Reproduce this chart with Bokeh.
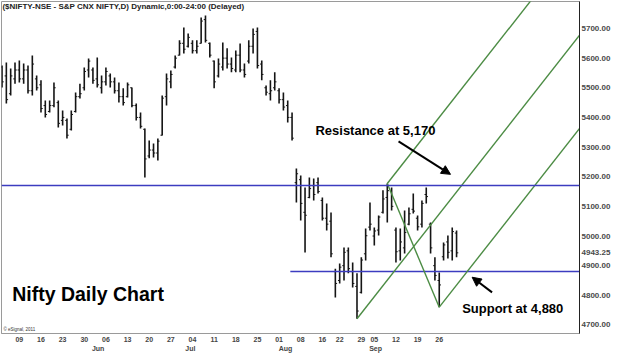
from bokeh.plotting import figure
from bokeh.models import (FixedTicker, Label, Arrow, NormalHead, Span, LinearAxis,
                          Range1d, CustomJSTickFormatter, NumeralTickFormatter)
from bokeh.embed import file_html
from bokeh.resources import INLINE

# ---- data (daily OHLC, NIFTY, 3 May - 30 Sep 2011) ----
OPEN = [5570, 5540, 5480, 5530, 5560, 5530, 5560, 5490, 5530, 5510,
        5440, 5420, 5440, 5450, 5390, 5390, 5360, 5420, 5470, 5500,
        5560, 5560, 5530, 5500, 5520, 5540, 5520, 5490, 5470, 5470,
        5500, 5440, 5400, 5360, 5270, 5290, 5280, 5340, 5470, 5520,
        5570, 5610, 5650, 5640, 5650, 5625, 5650, 5730, 5650, 5590,
        5540, 5570, 5600, 5580, 5560, 5610, 5560, 5590, 5640, 5690,
        5580, 5500, 5480, 5500, 5490, 5460, 5440, 5400, 5180, 5190,
        5080, 5130, 5170, 5180, 5120, 5060, 5050, 4880, 4850, 4900,
        4950, 4880, 4830, 4810, 4940, 5030, 5000, 5020, 5080, 5130,
        5150, 5020, 4950, 4960, 5040, 5090, 5060, 5040, 5140, 5040,
        4900, 4850, 4930, 4980, 4950, 5010]
HIGH = [5575, 5585, 5565, 5585, 5592, 5582, 5575, 5609, 5541, 5525,
        5457, 5457, 5518, 5457, 5423, 5396, 5423, 5484, 5514, 5568,
        5599, 5568, 5602, 5541, 5568, 5548, 5535, 5518, 5498, 5518,
        5501, 5447, 5417, 5363, 5322, 5312, 5329, 5474, 5548, 5558,
        5609, 5660, 5703, 5683, 5660, 5660, 5737, 5744, 5653, 5592,
        5599, 5653, 5633, 5602, 5626, 5649, 5582, 5660, 5700, 5703,
        5592, 5508, 5525, 5552, 5498, 5484, 5457, 5417, 5228, 5204,
        5164, 5197, 5194, 5197, 5130, 5110, 5079, 4890, 4907, 4961,
        4961, 4911, 4874, 4928, 5025, 5113, 5029, 5069, 5154, 5177,
        5164, 5029, 5025, 5086, 5096, 5143, 5069, 5120, 5164, 5046,
        4928, 4877, 4978, 5002, 5029, 5019]
LOW = [5501, 5447, 5474, 5514, 5518, 5514, 5481, 5474, 5491, 5417,
       5400, 5417, 5434, 5366, 5373, 5329, 5356, 5417, 5464, 5491,
       5535, 5514, 5501, 5481, 5508, 5501, 5481, 5450, 5440, 5467,
       5434, 5390, 5363, 5197, 5262, 5265, 5255, 5339, 5440, 5498,
       5565, 5609, 5616, 5636, 5616, 5616, 5649, 5653, 5602, 5498,
       5535, 5558, 5565, 5552, 5552, 5552, 5535, 5582, 5616, 5565,
       5525, 5474, 5457, 5491, 5447, 5423, 5383, 5322, 5113, 5052,
       4944, 5127, 5120, 5143, 5052, 5019, 4928, 4793, 4840, 4850,
       4874, 4826, 4721, 4806, 4917, 5019, 4968, 5002, 5076, 5046,
       5086, 4911, 4917, 4941, 5036, 5076, 5019, 5029, 5110, 4941,
       4850, 4760, 4917, 4924, 4917, 4928]
CLOSE = [5520, 5460, 5540, 5560, 5530, 5560, 5490, 5580, 5500, 5430,
         5410, 5440, 5500, 5380, 5400, 5340, 5410, 5470, 5480, 5555,
         5590, 5525, 5510, 5520, 5555, 5520, 5490, 5470, 5450, 5510,
         5440, 5400, 5370, 5260, 5290, 5280, 5320, 5465, 5530, 5545,
         5600, 5650, 5630, 5670, 5625, 5640, 5725, 5660, 5610, 5520,
         5580, 5600, 5580, 5565, 5610, 5560, 5545, 5640, 5680, 5575,
         5545, 5485, 5490, 5520, 5460, 5435, 5400, 5330, 5210, 5110,
         5070, 5160, 5140, 5150, 5060, 5040, 4940, 4840, 4895, 4945,
         4890, 4840, 4747, 4919, 5001, 5040, 5017, 5064, 5125, 5153,
         5100, 4947, 4980, 5012, 5075, 5084, 5031, 5110, 5133, 4960,
         4867, 4835, 4970, 4945, 5015, 4943.25]
LAST_PRICE = 4943.25

DAY_TICKS = [4, 9, 14, 19, 24, 29, 34, 39, 44, 49, 54, 59, 64, 69, 74, 78, 83, 86, 91, 96, 101]
DAY_LABELS = ["09", "16", "23", "30", "06", "13", "20", "27", "04", "11", "18", "25",
              "01", "08", "16", "22", "29", "05", "12", "19", "26"]
MONTH_TICKS = [22.2, 43.5, 65.5, 86.3]
MONTH_LABELS = ["Jun", "Jul", "Aug", "Sep"]
Y_TICKS = [4700, 4800, 4900, 5000, 5100, 5200, 5300, 5400, 5500, 5600, 5700]

RESISTANCE = 5170
SUPPORT = 4880
SUPPORT_FROM = 66.6
# channel pivots (bar index, price) and common slope (points per bar)
PIVOT_A = (82, 4721)
PIVOT_B = (89, 5177)
PIVOT_C = (101, 4760)
SLOPE = 18.6

X0, X1 = -0.12, 133.4
Y0, Y1 = 4671.2, 5791.0

FONT = "Liberation Sans"

p = figure(width=620, height=355, x_range=Range1d(X0, X1), y_range=Range1d(Y0, Y1),
           output_backend="svg", toolbar_location=None, y_axis_location="right",
           min_border_left=1, min_border_top=1, min_border_right=41, min_border_bottom=22,
           background_fill_color="white", border_fill_color="white")
p.outline_line_color = "#9a9a9a"
p.xgrid.visible = False
p.ygrid.visible = False

# y axis (right); the last traded price is shown as an extra label on it
ya = p.yaxis[0]
ya.ticker = FixedTicker(ticks=Y_TICKS + [LAST_PRICE])
ya.formatter = NumeralTickFormatter(format="0.00")
ya.axis_line_color = "#222222"
ya.major_tick_out = 0
ya.major_tick_in = 0
ya.minor_tick_line_color = None
ya.major_label_standoff = 2
ya.major_label_text_font = FONT
ya.major_label_text_font_size = "8px"
ya.major_label_text_font_style = "bold"
ya.major_label_text_color = "#4a4a4a"

fmt_js = """
let best = 0, d = Infinity;
for (let k = 0; k < tv.length; k++) {
  const dd = Math.abs(tv[k] - tick);
  if (dd < d) { d = dd; best = k; }
}
return tl[best];
"""

xa = p.xaxis[0]
xa.ticker = FixedTicker(ticks=DAY_TICKS)
xa.formatter = CustomJSTickFormatter(args=dict(tv=DAY_TICKS, tl=DAY_LABELS), code=fmt_js)
xa.axis_line_color = "#9a9a9a"
xa.major_tick_out = 0
xa.major_tick_in = 0
xa.major_tick_line_color = None
xa.minor_tick_line_color = None
xa.major_label_standoff = 3
xa.major_label_text_font = FONT
xa.major_label_text_font_size = "7px"
xa.major_label_text_font_style = "bold"
xa.major_label_text_color = "#444444"

ma = LinearAxis(ticker=FixedTicker(ticks=MONTH_TICKS),
                formatter=CustomJSTickFormatter(args=dict(tv=MONTH_TICKS, tl=MONTH_LABELS), code=fmt_js))
ma.axis_line_color = None
ma.major_tick_out = 0
ma.major_tick_in = 0
ma.major_tick_line_color = None
ma.minor_tick_line_color = None
ma.major_label_standoff = 0
ma.major_label_text_font = FONT
ma.major_label_text_font_size = "7px"
ma.major_label_text_font_style = "bold"
ma.major_label_text_color = "#444444"
p.add_layout(ma, "below")

# OHLC bars
X = list(range(len(HIGH)))
TICK = 0.4
bar_color = "#151515"
p.segment(x0=X, y0=LOW, x1=X, y1=HIGH, line_color=bar_color, line_width=1.6)
p.segment(x0=[x - TICK for x in X], y0=OPEN, x1=X, y1=OPEN, line_color=bar_color, line_width=1)
p.segment(x0=X, y0=CLOSE, x1=[x + TICK for x in X], y1=CLOSE, line_color=bar_color, line_width=1)

# horizontal levels
blue = "#3c3cc0"
p.add_layout(Span(location=RESISTANCE, dimension="width", line_color=blue, line_width=1.5))
p.segment(x0=[SUPPORT_FROM], y0=[SUPPORT], x1=[X1 + 5], y1=[SUPPORT], line_color=blue, line_width=1.5)

# parallel channel lines and B-C line
green = "#4c8c44"
far = 60
for (px, py) in (PIVOT_A, PIVOT_B, PIVOT_C):
    p.line(x=[px, px + far], y=[py, py + far * SLOPE], line_color=green, line_width=1.4)
p.line(x=[PIVOT_B[0], PIVOT_C[0]], y=[PIVOT_B[1], PIVOT_C[1]], line_color=green, line_width=1.4)

# arrows
p.add_layout(Arrow(end=NormalHead(size=9, fill_color="black", line_color="black"),
                   x_start=91.6, y_start=5319, x_end=103.6, y_end=5208,
                   line_color="black", line_width=2))
p.add_layout(Arrow(end=NormalHead(size=9, fill_color="black", line_color="black"),
                   x_start=113.2, y_start=4810, x_end=108.6, y_end=4861,
                   line_color="black", line_width=2))

# texts
p.add_layout(Label(x=0.1, y=5774, text="($NIFTY-NSE - S&P CNX NIFTY,D) Dynamic,0:00-24:00 (Delayed)",
                   text_font=FONT, text_font_size="8px", text_font_style="bold",
                   text_color="#222222", text_baseline="middle", text_align="left"))
p.add_layout(Label(x=72.4, y=5356, text="Resistance at 5,170", text_font=FONT,
                   text_font_size="13px", text_font_style="bold", text_color="black",
                   text_baseline="middle", text_align="left"))
p.add_layout(Label(x=106.3, y=4756, text="Support at 4,880", text_font=FONT,
                   text_font_size="13px", text_font_style="bold", text_color="black",
                   text_baseline="middle", text_align="left"))
p.add_layout(Label(x=2.35, y=4803, text="Nifty Daily Chart", text_font=FONT,
                   text_font_size="19.5px", text_font_style="bold", text_color="black",
                   text_baseline="middle", text_align="left"))
p.add_layout(Label(x=0.35, y=4685, text="\u00a9 eSignal, 2011", text_font=FONT,
                   text_font_size="4.5px", text_color="#333333",
                   text_baseline="middle", text_align="left"))

open("out.html", "w").write(file_html(p, INLINE))
